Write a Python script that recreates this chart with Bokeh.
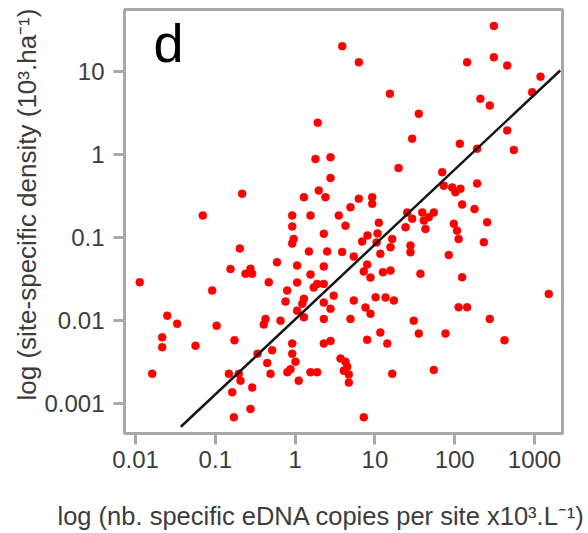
from bokeh.plotting import figure
from bokeh.models import Label, FixedTicker, Range1d, Title, LogAxis
from bokeh.embed import file_html
from bokeh.resources import INLINE

# eDNA copies per site (x10^3 / L) and site-specific density (10^3 / ha)
edna_copies = [
    310, 3.9, 6.3, 143, 310, 455, 1190, 935, 15.4, 210,
    275, 35.5, 1.92, 455, 29.3, 116, 191, 551, 1.8, 2.78,
    19.8, 2.78, 69.7, 191, 73, 93, 118, 102, 0.217, 1.98,
    1.29, 2.4, 6.28, 9.25, 9.25, 4.94, 124, 177, 0.0697, 0.92,
    1.56, 3.53, 25.4, 39.2, 54.7, 29.3, 41, 47.3, 24.2, 43,
    97.5, 107, 112, 255, 232, 11.2, 0.92, 4.28, 0.96, 2.29,
    6.93, 8.07, 10.8, 10.5, 16.5, 15.7, 27.9, 27.9, 0.203, 1.49,
    2.52, 3.89, 0.92, 5.44, 11.7, 84.3, 0.593, 1.06, 2.29, 0.155,
    0.276, 0.29, 0.239, 1.56, 8.0, 7.26, 12.6, 15.7, 37.2, 124,
    0.0113, 0.468, 1.06, 1.89, 1.71, 2.29, 0.0914, 0.796, 0.758, 1.29,
    1.23, 3.05, 2.29, 2.78, 5.44, 10.2, 13.6, 17.3, 1510, 112,
    143, 7.62, 8.81, 1.06, 1.29, 0.025, 0.0333, 0.104, 0.426, 0.405,
    0.656, 2.29, 4.94, 30.7, 275, 0.0216, 0.0216, 0.0565, 0.174, 11.7,
    35.5, 76.7, 8.0, 14.3, 421, 2.78, 2.29, 0.92, 0.92, 0.516,
    0.338, 0.447, 0.492, 1.01, 0.875, 0.80, 1.56, 1.89, 1.11, 0.197,
    0.207, 0.148, 0.0162, 0.163, 0.29, 0.276, 0.171, 3.71, 4.28, 4.5,
    4.07, 4.71, 4.71, 7.26, 16.5, 54.7, 8.81,
]
density = [
    35, 20, 12.8, 12.8, 14.7, 11.7, 8.6, 5.6, 5.35, 4.66,
    3.87, 3.07, 2.4, 1.94, 1.54, 1.34, 1.17, 1.13, 0.88, 0.92,
    0.685, 0.52, 0.61, 0.446, 0.42, 0.40, 0.385, 0.35, 0.336, 0.367,
    0.305, 0.305, 0.292, 0.305, 0.254, 0.231, 0.249, 0.22, 0.184, 0.184,
    0.184, 0.184, 0.20, 0.20, 0.20, 0.168, 0.16, 0.175, 0.133, 0.127,
    0.146, 0.121, 0.096, 0.153, 0.088, 0.151, 0.136, 0.139, 0.096, 0.111,
    0.0895, 0.106, 0.112, 0.087, 0.096, 0.0764, 0.080, 0.0666, 0.0738, 0.068,
    0.068, 0.067, 0.0847, 0.059, 0.0637, 0.0616, 0.0505, 0.046, 0.0448, 0.0418,
    0.042, 0.0366, 0.0366, 0.0359, 0.0473, 0.039, 0.0383, 0.040, 0.0366, 0.0333,
    0.029, 0.029, 0.0288, 0.0277, 0.025, 0.0277, 0.023, 0.023, 0.017, 0.0183,
    0.016, 0.020, 0.0165, 0.0139, 0.0175, 0.0191, 0.019, 0.0175, 0.021, 0.0145,
    0.0145, 0.0144, 0.0121, 0.0132, 0.011, 0.0115, 0.0092, 0.0087, 0.0105, 0.009,
    0.010, 0.0105, 0.0105, 0.010, 0.0105, 0.0063, 0.0048, 0.005, 0.0058, 0.0072,
    0.0070, 0.0070, 0.0059, 0.0053, 0.0058, 0.0057, 0.0053, 0.0053, 0.004, 0.0044,
    0.004, 0.0031, 0.0023, 0.0032, 0.0026, 0.0024, 0.0024, 0.0024, 0.0019, 0.0023,
    0.0019, 0.0023, 0.0023, 0.00138, 0.00157, 0.00087, 0.00069, 0.0035, 0.0032, 0.0028,
    0.0025, 0.00225, 0.0018, 0.00069, 0.0023, 0.00256, 0.033,
]

# regression line end points
fit_x = [0.037, 2100]
fit_y = [0.00053, 10.2]

x_ticks = [0.01, 0.1, 1, 10, 100, 1000]
x_tick_labels = ["0.01", "0.1", "1", "10", "100", "1000"]
y_ticks = [0.001, 0.01, 0.1, 1, 10]
y_tick_labels = ["0.001", "0.01", "0.1", "1", "10"]

panel_letter = "d"
x_title = "log (nb. specific eDNA copies per site x10³.L⁻¹)"
y_title = "log (site-specific density (10³.ha⁻¹)"

FONT = "Liberation Sans"
GREY = "#a8a8a8"
TEXT = "#3c3c3c"

p = figure(width=588, height=533, x_axis_type="log", y_axis_type="log",
           x_range=Range1d(0.00728, 2244), y_range=Range1d(0.00044, 55.2),
           output_backend="svg", toolbar_location=None,
           min_border_left=124, min_border_right=26,
           min_border_top=9, min_border_bottom=100)

p.background_fill_color = "white"
p.border_fill_color = "white"
p.grid.visible = False
p.outline_line_color = GREY
p.outline_line_width = 3

for ax, ticks, labels in ((p.xaxis[0], x_ticks, x_tick_labels), (p.yaxis[0], y_ticks, y_tick_labels)):
    ax.ticker = FixedTicker(ticks=ticks, minor_ticks=[])
    ax.major_label_overrides = {t: l for t, l in zip(ticks, labels)}
    ax.axis_line_color = None
    ax.major_tick_line_color = GREY
    ax.major_tick_line_width = 3
    ax.major_tick_out = 11
    ax.major_tick_in = 0
    ax.minor_tick_line_color = None
    ax.major_label_text_font = FONT
    ax.major_label_text_font_size = "24px"
    ax.major_label_text_color = TEXT

p.xaxis.major_label_standoff = 6
p.yaxis.major_label_standoff = 9

p.scatter(edna_copies, density, marker="circle", size=8,
          fill_color="#ff0000", line_color="#ff0000", line_width=0.5)
p.line(fit_x, fit_y, line_color="#151515", line_width=2.5)

p.add_layout(Label(x=29, y=391, x_units="screen", y_units="screen", text=panel_letter,
                   text_font=FONT, text_font_size="54px",
                   text_color="black", text_align="left", text_baseline="alphabetic"))

# invisible spacer axis between the x tick labels and the x title
spacer = LogAxis(ticker=FixedTicker(ticks=[1], minor_ticks=[]), axis_line_color=None,
                 major_tick_line_color=None, minor_tick_line_color=None,
                 major_tick_out=29, major_tick_in=0, minor_tick_out=0,
                 major_label_standoff=0, major_label_text_font_size="1px",
                 major_label_text_color=None)
p.add_layout(spacer, "below")

p.add_layout(Title(text=x_title, align="left", offset=-67, vertical_align="bottom",
                   standoff=0, text_font=FONT, text_font_size="25.5px",
                   text_font_style="normal", text_color=TEXT), "below")
p.add_layout(Title(text=y_title, align="left", offset=33, vertical_align="bottom",
                   standoff=0, text_font=FONT, text_font_size="26px",
                   text_font_style="normal", text_color=TEXT), "left")

open("out.html", "w").write(file_html(p, INLINE))
